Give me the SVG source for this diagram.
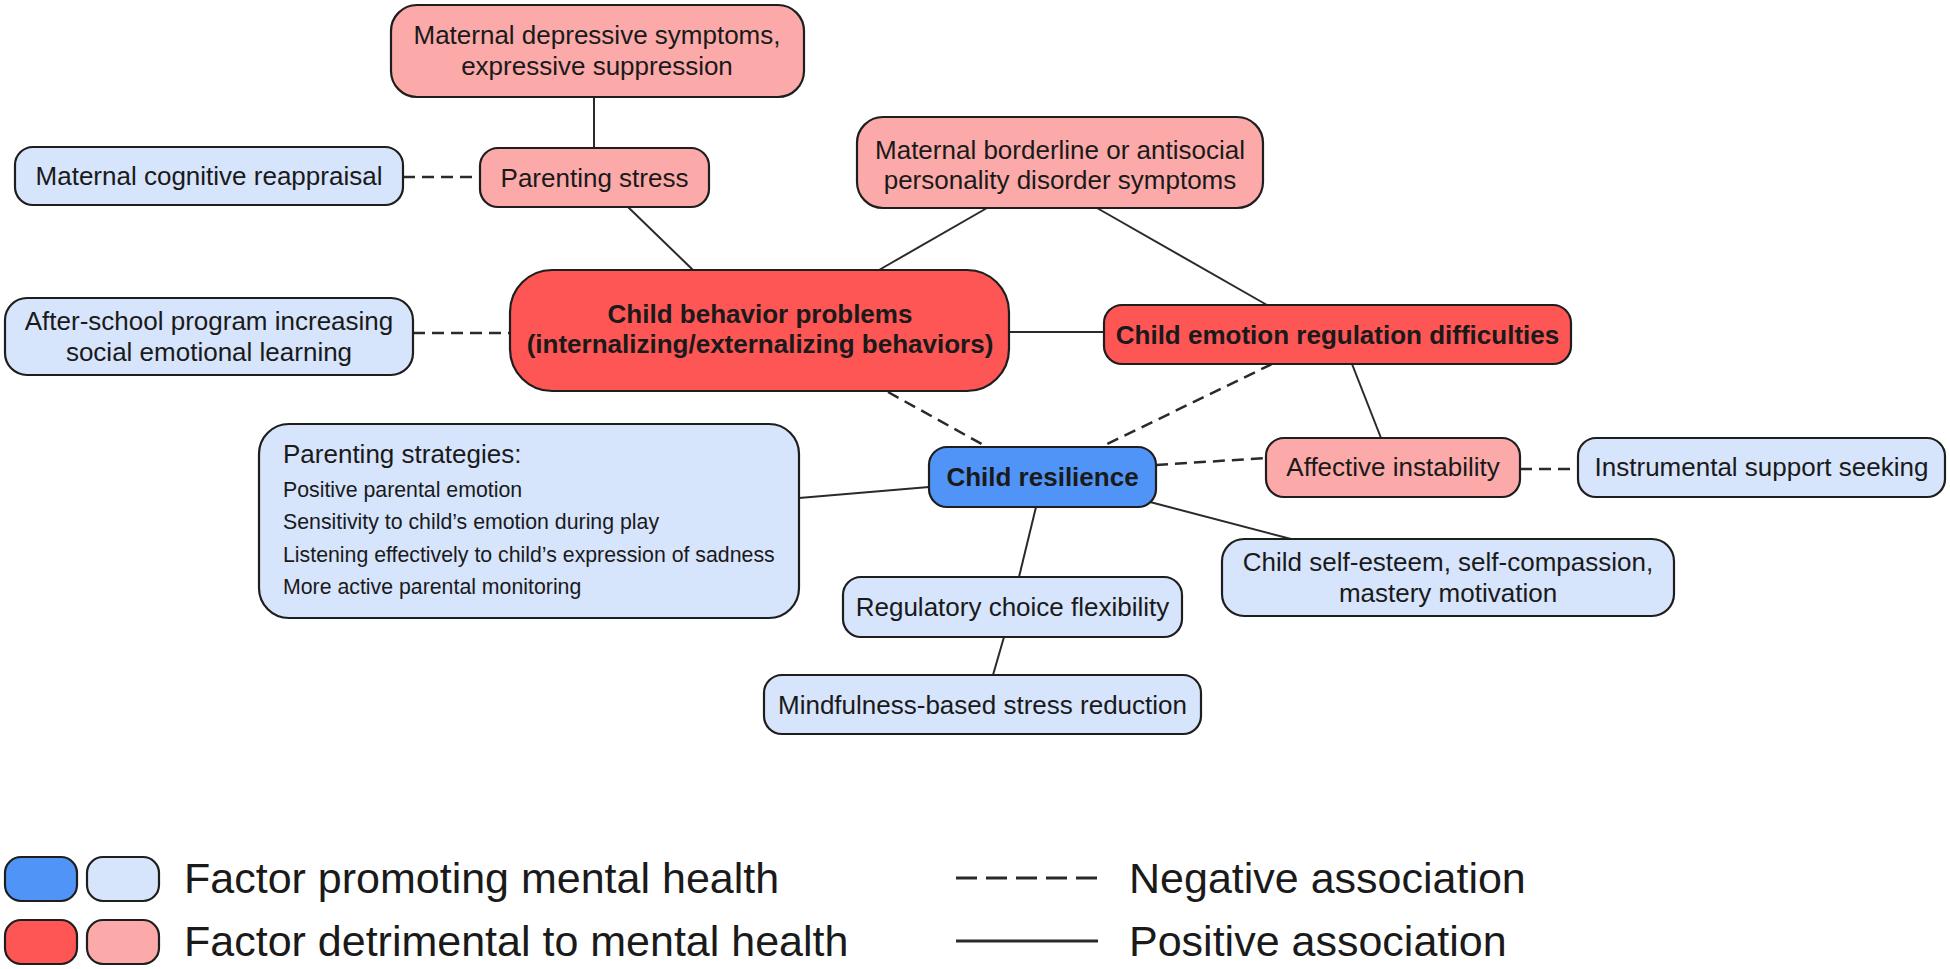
<svg xmlns="http://www.w3.org/2000/svg" width="1950" height="969" viewBox="0 0 1950 969">
<style>
  .box{stroke:#1e1e1e;stroke-width:2.2}
  .dr{fill:#FE5555}
  .pk{fill:#FBA9A9}
  .db{fill:#5094F8}
  .lb{fill:#D6E4FC}
  text{font-family:"Liberation Sans",Arial,Helvetica,sans-serif;fill:#1a1a1a}
  .t{font-size:26px;text-anchor:middle}
  .b{font-weight:bold}
  .s{font-size:21.3px}
  .lg{font-size:43px}
  .pos{stroke:#2a2a2a;stroke-width:2;fill:none}
  .neg{stroke:#2a2a2a;stroke-width:2.5;stroke-dasharray:12 7;fill:none}
</style>
<rect width="1950" height="969" fill="#ffffff"/>
<g id="connectors">
  <line class="pos" x1="594" y1="97" x2="594" y2="148"/>
  <line class="neg" x1="403" y1="177" x2="480" y2="177"/>
  <line class="pos" x1="628" y1="207" x2="693" y2="270"/>
  <line class="neg" x1="413" y1="333" x2="510" y2="333"/>
  <line class="pos" x1="987" y1="208" x2="879" y2="270"/>
  <line class="pos" x1="1097" y1="208" x2="1267" y2="305"/>
  <line class="pos" x1="1009" y1="332" x2="1104" y2="332"/>
  <line class="neg" x1="888" y1="392" x2="987" y2="447"/>
  <line class="neg" x1="1272" y1="364" x2="1101" y2="447"/>
  <line class="pos" x1="1352" y1="364" x2="1381" y2="438"/>
  <line class="neg" x1="1156" y1="465" x2="1266" y2="458"/>
  <line class="neg" x1="1520" y1="469" x2="1578" y2="469"/>
  <line class="pos" x1="799" y1="498" x2="929" y2="487"/>
  <line class="pos" x1="1036" y1="507" x2="1019" y2="577"/>
  <line class="pos" x1="1004" y1="637" x2="993" y2="675"/>
  <line class="pos" x1="1150" y1="502" x2="1291" y2="539"/>
</g>
<g id="n-maternal-depressive">
  <rect class="box pk" x="391" y="5" width="413" height="92" rx="26"/>
  <text class="t" x="597" y="44">Maternal depressive symptoms,</text>
  <text class="t" x="597" y="75">expressive suppression</text>
</g>
<g id="n-parenting-stress">
  <rect class="box pk" x="480" y="148" width="229" height="59" rx="18"/>
  <text class="t" x="594.5" y="187">Parenting stress</text>
</g>
<g id="n-cognitive-reappraisal">
  <rect class="box lb" x="15" y="147" width="388" height="58" rx="18"/>
  <text class="t" x="209" y="185">Maternal cognitive reappraisal</text>
</g>
<g id="n-after-school">
  <rect class="box lb" x="5" y="298" width="408" height="77" rx="22"/>
  <text class="t" x="209" y="330">After-school program increasing</text>
  <text class="t" x="209" y="361">social emotional learning</text>
</g>
<g id="n-child-behavior">
  <rect class="box dr" x="510" y="270" width="499" height="121" rx="42"/>
  <text class="t b" x="760" y="323">Child behavior problems</text>
  <text class="t b" x="760" y="353">(internalizing/externalizing behaviors)</text>
</g>
<g id="n-maternal-borderline">
  <rect class="box pk" x="857" y="117" width="406" height="91" rx="26"/>
  <text class="t" x="1060" y="159">Maternal borderline or antisocial</text>
  <text class="t" x="1060" y="189">personality disorder symptoms</text>
</g>
<g id="n-emotion-regulation">
  <rect class="box dr" x="1104" y="305" width="467" height="59" rx="18"/>
  <text class="t b" x="1337.5" y="343.5">Child emotion regulation difficulties</text>
</g>
<g id="n-child-resilience">
  <rect class="box db" x="929" y="447" width="227" height="60" rx="18"/>
  <text class="t b" x="1042.5" y="486">Child resilience</text>
</g>
<g id="n-affective-instability">
  <rect class="box pk" x="1266" y="438" width="254" height="59" rx="18"/>
  <text class="t" x="1393" y="476">Affective instability</text>
</g>
<g id="n-instrumental-support">
  <rect class="box lb" x="1578" y="438" width="367" height="59" rx="18"/>
  <text class="t" x="1761.5" y="476">Instrumental support seeking</text>
</g>
<g id="n-parenting-strategies">
  <rect class="box lb" x="259" y="424" width="540" height="194" rx="30"/>
  <text x="283" y="463" font-size="26">Parenting strategies:</text>
  <text class="s" x="283" y="497">Positive parental emotion</text>
  <text class="s" x="283" y="529">Sensitivity to child’s emotion during play</text>
  <text class="s" x="283" y="562">Listening effectively to child’s expression of sadness</text>
  <text class="s" x="283" y="594">More active parental monitoring</text>
</g>
<g id="n-self-esteem">
  <rect class="box lb" x="1222" y="539" width="452" height="77" rx="22"/>
  <text class="t" x="1448" y="571">Child self-esteem, self-compassion,</text>
  <text class="t" x="1448" y="602">mastery motivation</text>
</g>
<g id="n-regulatory-choice">
  <rect class="box lb" x="843" y="577" width="339" height="60" rx="18"/>
  <text class="t" x="1012.5" y="616">Regulatory choice flexibility</text>
</g>
<g id="n-mindfulness">
  <rect class="box lb" x="764" y="675" width="437" height="59" rx="18"/>
  <text class="t" x="982.5" y="713.5">Mindfulness-based stress reduction</text>
</g>
<g id="legend">
  <rect class="box db" x="5" y="857" width="72" height="44" rx="16"/>
  <rect class="box lb" x="87" y="857" width="72" height="44" rx="16"/>
  <rect class="box dr" x="5" y="920" width="72" height="44" rx="16"/>
  <rect class="box pk" x="87" y="920" width="72" height="44" rx="16"/>
  <text class="lg" x="184" y="893">Factor promoting mental health</text>
  <text class="lg" x="184" y="956">Factor detrimental to mental health</text>
  <line x1="956" y1="878" x2="1097" y2="878" stroke="#2a2a2a" stroke-width="3" stroke-dasharray="21 9"/>
  <line x1="956" y1="941" x2="1098" y2="941" stroke="#2a2a2a" stroke-width="3"/>
  <text class="lg" x="1129" y="893">Negative association</text>
  <text class="lg" x="1129" y="956">Positive association</text>
</g>
</svg>
